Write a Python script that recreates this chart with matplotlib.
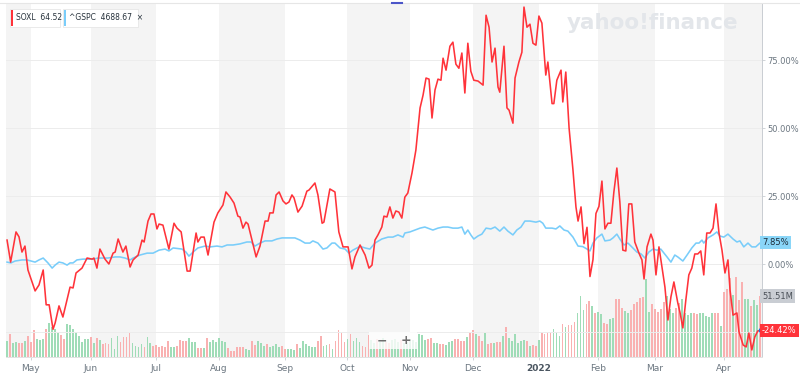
import matplotlib.pyplot as plt
from matplotlib.patches import Rectangle
from matplotlib.lines import Line2D
import numpy as np

W, H = 800, 379
BAND = "#f4f4f4"
GRID = "#ececec"
RED = "#ff333a"
BLUE = "#79cdfa"
VOL_UP = "#9fdcb7"
VOL_DN = "#f9b1b1"
LABEL = "#6b7680"

# trading-day index (0 = 21 Apr 2021) and % change since start
soxl_day = [0, 1.2, 3, 4, 5, 6, 7, 9.4, 10.7, 12.1, 13.1, 14.1, 15.4, 16.1, 17.4, 18.7, 21.1, 22.1, 23.1, 25.1,
            26.8, 28.5, 29.1, 30.1, 31.1, 32.8, 34.1, 35.5, 36.2, 37.2, 38.8, 39.8, 41.2, 42.2, 43.9, 45.2, 45.9,
            47.2, 48.2, 49.2, 50.2, 50.9, 52.2, 54.2, 55.9, 56.9, 58.3, 60.3, 61.3, 63.3, 63.9, 64.9, 66.0, 67.3,
            69.3, 70.6, 72.3, 73.3, 74.7, 76.0, 77.3, 78.0, 79.0, 80.0, 80.7, 83.4, 84.7, 86.4, 87.4, 88.0, 89.1,
            90.1, 91.1, 92.4, 93.4, 94.4, 95.4, 96.1, 97.4, 98.8, 100.4, 101.1, 103.1, 104.1, 105.5, 106.1, 108.1,
            109.8, 111.1, 112.5, 114.2, 115.5, 116.5, 118.2,
            119.9, 121.2, 122.2, 123.2, 124.2, 125.5, 126.2, 127.2, 128.2, 129.2, 130.2, 131.2, 132.2, 133.2,
            134.2, 135.6, 136.9, 138.3, 139.3, 140.3, 141.3, 142.3, 143.3, 144.3, 145.3, 146.0, 147.0, 148.3,
            149.3, 150.3, 151.3, 152.3, 153.3, 154.3, 155.3, 156.3, 157.7, 159.4, 160.4, 161.4, 162.4, 163.4,
            164.4, 165.0, 166.4, 167.4, 168.1, 169.4, 170.1, 171.4, 172.4, 173.1, 174.1, 175.1, 176.1, 177.1,
            178.1, 179.1, 180.4, 181.1, 182.5, 183.1, 184.1, 185.5, 186.1, 187.1, 188.2, 189.5, 190.5, 191.2,
            192.2, 193.2, 194.2, 195.2, 196.2, 197.2, 198.2, 199.2, 200.2, 201.2, 202.2, 203.2, 204.2, 205.2,
            206.2, 207.2, 208.2, 209.2, 210.2, 211.6, 212.6, 213.3, 214.3, 215.6, 216.3, 217.3, 218.3, 219.3,
            220.3, 221.3, 222.3, 223.3, 224.6, 225.3, 226.3, 227.3, 228.3, 229.3, 230.3, 231.3, 232.3, 233.3,
            234.3, 235.4, 236.4, 237.4, 238.4, 239.4, 240.4, 241.4, 242.1, 243.1, 244.4, 245.1, 246.5, 247.5,
            248.4, 249.4, 250.4, 251.4, 252.4]
soxl_pct = [8.8, 0.7, 11.8, 10, 4.4, 6.6, -2.2, -9.9, -7.7, -2.2, -15, -15, -24, -21.7, -15.4, -19.5, -8.5, -8.8,
            -3.3, -1.5, 2.2, 1.8, 2.2, -1.5, 5.5, 1.8, 0, 4, 4.4, 9.2, 4.4, 6.6, -1.1, 1.5, 3.3, 8.8, 8.1, 15.8,
            18.4, 18.4, 12.9, 14.7, 14.3, 5.5, 15, 13.2, 11.8, -2.6, -2.6, 11.4, 8.1, 9.9, 9.9, 3.3, 15.4, 18.8,
            21.7, 26.5, 24.6, 22.4, 17.6, 17.3, 13.2, 15.4, 14.7, 2.6, 6.6, 15.8, 15.8, 18.8, 18.8, 25.4, 26.5,
            23.2, 22.1, 22.8, 25.4, 24.3, 19.1, 21.3, 26.8, 27.2, 29.8, 25.4, 15, 15.4, 27.6, 26.5, 11.8, 6.3,
            6.3, -1.8, 2.6, 7.0,
            3.3, -1.5, -0.4, 8.8, 10.7, 13.6, 17.6, 17.3, 21, 16.9, 19.5, 19.1, 16.9, 24.6, 26.1, 33.5, 41.9,
            57.4, 62.1, 68.4, 68, 53.7, 64, 68, 67.6, 75.7, 71.3, 80.1, 81.6, 73.5, 72, 77.6, 62.9, 81.2, 70.9,
            67.6, 67.3, 65.8, 91.5, 87.1, 74.3, 79.4, 65.1, 63.2, 80.1, 57.4, 56.6, 51.8, 68.4, 74.3, 77.9, 94.5,
            87.1, 88.2, 81.2, 80.5, 91.2, 88.6, 69.5, 74.3, 59, 59, 67.6, 71.3, 59.6, 70.6, 50, 34.6, 21, 15.8,
            21, 7.5, 13.5, -4.6, 1.6, 18.6, 21.2, 30.5, 12.9, 15, 15, 26.5, 35.3, 22.8, 5.1, 4.8, 22.1, 22.1, 8.1,
            4, 1.5, -5.5, 6.3, 11, 8.8, -4, 6.3, -1.1, -8.5, -20.6, -12.1, -6.6, -14.3, -17.6, -23.5, -13.2, -4,
            -1.5, 3.7, 3.7, 4.8, -4, 11.4, 11.4, 13.2, 22.1, 11.4, 5.1, -3.3, 1.5, -9.6, -18.8, -18, -25, -29.8,
            -30.5, -25.4, -31.6, -26.8, -24.6, -24.42]

gspc_day = [0, 1.3, 2.7, 5.0, 6.7, 8.0, 9.4, 10.7, 12.1, 13.7, 15.1, 16.1, 17.4, 18.7, 20.1, 21.1, 22.1, 23.4,
            25.4, 27.1, 28.8, 30.5, 32.1, 33.8, 36.2, 37.8, 39.5, 41.2, 42.2, 44.5, 46.9, 48.9, 50.9, 52.9, 54.2,
            55.6, 58.6, 59.9, 60.9, 62.3, 63.9, 66.3, 68.0, 70.3, 72.0, 73.7, 75.7, 78.0, 80.3, 81.7, 83.0, 84.7,
            86.4, 88.7, 90.4, 92.1, 94.1, 96.4, 98.1, 99.8, 101.4, 102.4, 104.1, 105.8, 107.1, 108.8, 109.8,
            111.5, 113.2, 114.5, 115.8, 118.2, 119.9, 121.5, 123.2, 125.5, 127.6, 129.2, 130.9, 132.6, 133.2,
            134.9, 136.6, 138.3, 139.9, 140.9, 142.6, 144.3, 146.0, 147.6, 149.3, 151.0, 152.3, 153.3, 154.3,
            155.3, 156.3, 157.7, 159.0, 160.4, 162.0, 163.4, 165.0, 166.4, 167.7, 169.4, 170.7, 172.1, 173.4,
            175.1, 177.1, 178.4, 179.4, 180.4, 182.5, 183.8, 185.1, 186.5, 187.8, 189.5, 191.2, 192.8, 194.2,
            195.2, 196.2, 197.5, 199.2, 200.2, 201.9, 202.9, 204.2, 205.2, 206.6, 207.9, 209.2, 210.9, 212.3,
            213.6, 214.9, 216.3, 217.6, 218.9, 220.0, 221.0, 222.3, 223.6, 224.6, 226.3, 227.7, 229.3, 230.7,
            231.7, 232.7, 233.3, 234.7, 236.4, 237.7, 238.7, 240.0, 241.4, 243.1, 244.4, 245.4, 246.7, 248.1,
            249.4, 250.7, 252.1, 252.4]
gspc_pct = [0.7, 0.4, 1.1, 1.5, 1.5, 1.1, 0.7, 1.5, 2.2, 0.4, -1.5, -0.4, 0.7, 0.4, -0.4, 0.4, 0.4, 1.5,
            1.8, 1.8, 1.8, 2.2, 2.2, 2.2, 2.6, 2.6, 2.2, 1.5, 2.2, 3.3, 4.0, 4.0, 5.1, 5.5, 4.8,
            5.9, 5.5, 4.4, 2.9, 4.4, 5.9, 6.6, 6.3, 6.6, 6.3, 7.0, 7.0, 7.4, 8.1, 8.1, 6.6, 7.7,
            8.5, 8.5, 9.2, 9.6, 9.6, 9.6, 8.8, 7.7, 7.7, 8.5, 7.7, 5.5, 5.9, 7.7, 7.7,
            5.9, 5.5, 4.0, 5.1, 6.5, 5.9, 5.5, 7.7, 9.2, 9.9, 9.9, 10.7, 9.9, 11.4,
            11.8, 12.5, 13.2, 13.6, 13.2, 12.5, 13.2, 13.6, 13.6, 13.2, 13.2, 13.6, 11.0, 12.5,
            10.7, 9.2, 10.3, 11.0, 13.2, 12.9, 13.6, 12.1, 13.6, 12.1, 10.7, 12.5, 13.6, 15.8,
            15.8, 15.4, 15.8, 15.0, 13.2, 13.2, 12.9, 14.0, 12.5, 12.1, 9.9, 6.6, 6.4, 5.5,
            4.8, 7.7, 9.6, 11.0, 8.5, 8.8, 9.6, 11.0, 9.2, 7.0, 7.7, 6.3, 4.4, 3.7,
            2.2, 4.4, 5.5, 5.1, 5.5, 4.0, 2.6, 0.7, 3.3, 2.6, 1.1, 3.3, 5.9, 7.7,
            7.7, 8.8, 7.7, 9.6, 10.7, 11.8, 10.3, 9.9, 11.0, 9.2, 8.1, 8.5, 6.3, 7.7,
            6.3, 6.3, 7.7, 7.85]

# SOXL daily volume (millions), one bar per trading day; g = up day, r = down day
volume = [13.8, 19.4, 12.1, 12.7, 11.5, 12.1, 13.8, 17.7, 12.9, 22.8, 14.9, 14.3, 15.5, 23.9, 28.4, 25.6, 23.3,
          20.5, 18.3, 14.9, 27.6, 27.0, 23.3, 21.1, 18.0, 12.9, 15.2, 15.2, 16.6, 11.5, 15.8, 14.3, 10.7, 12.1,
          11.0, 16.3, 6.5, 17.7, 12.9, 17.2, 17.2, 20.0, 11.5, 9.3, 8.2, 11.0, 8.2, 16.6, 11.5, 9.3, 10.1, 8.7,
          9.3, 8.7, 13.5, 8.7, 8.2, 9.3, 14.3, 13.8, 13.8, 16.3, 12.9, 12.4, 7.3, 7.9, 7.3, 15.8, 12.9, 14.3,
          12.9, 16.0, 13.5, 12.9, 7.9, 5.1, 5.1, 8.7, 8.7, 8.7, 6.8, 5.9, 13.5, 10.1, 13.5, 11.5, 9.3, 11.0,
          8.7, 9.3, 11.0, 8.7, 9.3, 6.5, 6.5, 6.5, 5.9, 11.0, 7.9, 13.5, 11.0, 9.3, 8.7, 8.7, 13.8, 18.0, 9.3,
          10.1, 11.0, 6.8, 13.5, 22.8, 20.5, 12.9, 15.2, 19.4, 13.5, 15.8, 12.9, 9.6, 8.7, 18.6,
          14, 12, 15, 13, 16, 13, 12, 14, 15, 13, 14, 12, 13, 15, 14, 13,
          19.4, 18.6, 14.3, 15.2, 16.3, 11.5, 11.5, 11.0, 11.0, 10.1, 12.9, 13.5, 15.2, 14.9, 13.5, 13.5, 17.2,
          20.8, 22.8, 19.4, 17.7, 13.5, 20.5, 11.0, 12.1, 11.5, 12.4, 12.4, 17.7, 25.6, 15.8, 13.5, 19.1, 11.5,
          13.8, 14.3, 13.8, 9.6, 10.1, 9.3, 14.3, 20.5, 19.4, 21.4, 20.0, 23.6, 21.4, 17.7, 27.6, 25.0, 27.0,
          27.0, 29.8, 37.4, 51.5, 39.7, 44.5, 47.3, 43.3, 37.4, 38.3, 36.0, 29.0, 27.6, 31.8, 33.2, 48.7, 48.7,
          41.1, 38.8, 36.9, 39.7, 44.5, 46.1, 49.5, 50.9, 65.5, 38.3, 44.5, 40.2, 38.3, 40.2, 46.1, 51.5, 40.2,
          37.4, 41.1, 45.9, 48.7, 37.4, 35.4, 37.4, 36.9, 36.0, 36.9, 37.4, 34.6, 34.0, 37.4, 36.9, 36.9, 26.2,
          55.1, 57.1, 66.4, 52.3, 67.8, 48.1, 63.6, 48.7, 48.7, 43.3, 48.1, 43.9, 51.51]
vol_dir = ("grggrrgrrr" "gggrggggrr" "ggggggggrg" "rgrrrgggrr" "rrggggrggr" "rrrrrggrrr"
           "rgggrrgrgg" "ggggrrrrrr" "ggrrgggrgg" "ggrrgggrgg" "ggggrrggrg" "rrrrgrgggr" "rr"
           "ggrggrrgggrggggg"
           "gggrrggrrg" "ggrrrrgrrg" "rrgrrgrrgr" "ggggggrgrr" "grrrrgggrg" "rrrgggrrgr"
           "ggrrggrrrg" "grrrrrggrr" "rrrgggrrgg" "ggrrgggggr" "rgrrrgrrrg" "grggr")

month_day = [8, 28, 50, 71, 93, 114, 135, 156, 178, 198, 217, 240]
month_lbl = ["May", "Jun", "Jul", "Aug", "Sep", "Oct", "Nov", "Dec", "2022", "Feb", "Mar", "Apr"]
pct_ticks = [0, 25, 50, 75]
grid_lines = [-25, 0, 25, 50, 75]

soxl_last, gspc_last = 64.52, 4688.67


def fx(px):
    return px / W


def fy(py):
    return 1 - py / H


fig = plt.figure(figsize=(W / 100, H / 100), dpi=100)
fig.patch.set_facecolor("white")
rect = [fx(6), fy(357), fx(762) - fx(6), fy(3) - fy(357)]
xlim = (-0.35, 252.8)

# background: month bands + volume bars
ax_v = fig.add_axes(rect)
ax_v.set_xlim(*xlim)
ax_v.set_ylim(0, 299)
edges = [xlim[0]] + month_day + [xlim[1]]
for i in range(0, len(edges) - 1, 2):
    ax_v.axvspan(edges[i], edges[i + 1], color=BAND, lw=0, zorder=0)
days = np.arange(len(volume))
ax_v.bar(days, volume, width=0.6, color=[VOL_UP if c == "g" else VOL_DN for c in vol_dir], lw=0, zorder=2)
ax_v.axis("off")

# price lines
ax = fig.add_axes(rect, sharex=ax_v)
ax.set_facecolor("none")
ax.set_ylim(-34.2, 96.0)
for g in grid_lines:
    ax.axhline(g, color=GRID, lw=0.7, zorder=1)
ax.plot(gspc_day, gspc_pct, color=BLUE, lw=1.15, zorder=3)
ax.plot(soxl_day, soxl_pct, color=RED, lw=1.15, zorder=4)
ax.plot(soxl_day[-1], soxl_pct[-1], "o", color="#1a6fe0", ms=3, clip_on=False, zorder=6)

for s in ["left", "top"]:
    ax.spines[s].set_visible(False)
ax.spines["right"].set_color("#c9cdd2")
ax.spines["right"].set_linewidth(0.7)
ax.spines["bottom"].set_color("#e2e2e2")
ax.spines["bottom"].set_linewidth(0.7)

ax.yaxis.tick_right()
ax.set_yticks(pct_ticks)
ax.set_yticklabels([f"{t:.2f}%" for t in pct_ticks])
ax.tick_params(axis="y", length=2.5, width=0.6, color="#c9cdd2", labelsize=6, labelcolor=LABEL, pad=1.5)
ax.set_xticks(month_day)
ax.set_xticklabels(month_lbl)
ax.tick_params(axis="x", length=2.5, width=0.6, color="#c9cdd2", labelsize=6.5, labelcolor=LABEL, pad=2.5)
for lbl in ax.get_xticklabels():
    if lbl.get_text() == "2022":
        lbl.set_fontweight("bold")
        lbl.set_color("#4a5560")

# value tags on the right edge
yt = ax.get_yaxis_transform()
ax.text(1.0, gspc_pct[-1], f"{gspc_pct[-1]:.2f}%", transform=yt, fontsize=6, color="#1d2b38",
        va="center", ha="left", bbox=dict(boxstyle="square,pad=0.25", fc="#8ad6f8", ec="none"), zorder=7)
ax.text(1.0, soxl_pct[-1], f"{soxl_pct[-1]:.2f}%", transform=yt, fontsize=6, color="white",
        va="center", ha="left", bbox=dict(boxstyle="square,pad=0.25", fc="#ff333a", ec="none"), zorder=7)
ax_v.text(1.0, volume[-1], f"{volume[-1]:.2f}M", transform=ax_v.get_yaxis_transform(), fontsize=6,
          color="#4a5058", va="center", ha="left",
          bbox=dict(boxstyle="square,pad=0.25", fc="#c9cdd3", ec="none"), zorder=7)

# top border, range handle
fig.add_artist(Line2D([0, 1], [fy(3), fy(3)], color="#e6e6e6", lw=0.8))
fig.add_artist(Line2D([fx(392), fx(402)], [fy(3), fy(3)], color="#4b55c8", lw=1.5))

# zoom control
fig.add_artist(Rectangle((fx(369), fy(349)), fx(48), fy(332) - fy(349), fc="white", ec="none", alpha=0.8,
                         transform=fig.transFigure, zorder=5))
fig.text(fx(382), fy(341), "−", fontsize=9, color="#6f6f6f", fontweight="bold", ha="center", va="center", zorder=6)
fig.text(fx(406), fy(341), "+", fontsize=9, color="#6f6f6f", fontweight="bold", ha="center", va="center", zorder=6)

# watermark
fig.text(fx(567), fy(29), "yahoo!finance", fontsize=15.5, color="#e3e6ea", fontweight="bold", va="baseline",
         ha="left", zorder=0.5)

# legend chips
for x0, w, col, txt in [(10, 50, RED, f"SOXL  {soxl_last:.2f}"),
                        (63, 75, BLUE, f"^GSPC  {gspc_last:.2f}  ×")]:
    fig.add_artist(Rectangle((fx(x0), fy(27)), fx(w), fy(9) - fy(27), fc="white", ec="#e6e6e6", lw=0.6,
                             transform=fig.transFigure, zorder=6))
    fig.add_artist(Rectangle((fx(x0 + 1), fy(26)), fx(2), fy(10) - fy(26), fc=col, ec="none",
                             transform=fig.transFigure, zorder=7))
    fig.text(fx(x0 + 6), fy(18), txt, fontsize=5.5, color="#26313b", va="center", ha="left", zorder=8)

fig.savefig("out.png", dpi=100, facecolor="white")
